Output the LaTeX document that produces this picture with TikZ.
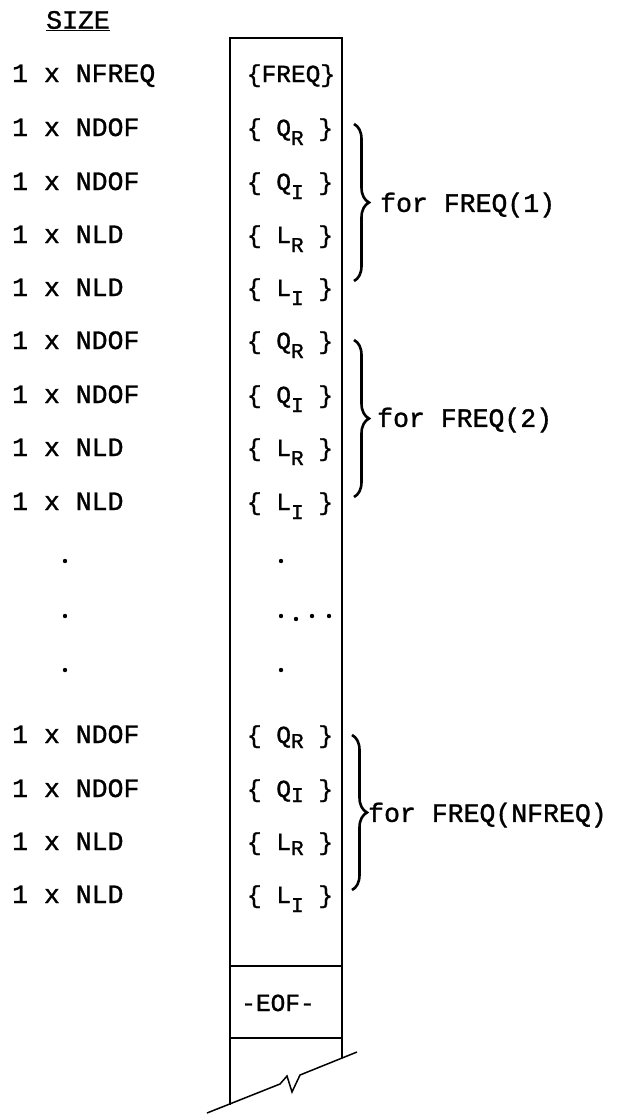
\documentclass[tikz,border=0pt]{standalone}
\usepackage{fontspec}
\setmonofont[FakeBold=1.2]{Liberation Mono}
\usetikzlibrary{decorations.pathreplacing}
\newcommand{\fld}[3][9pt]{\{ #2\raisebox{-#1}{\fontsize{21}{21}\selectfont #3} \}}

\begin{document}
\begin{tikzpicture}
        [x=1pt,y=-1pt,
         every node/.style={font=\ttfamily\fontsize{26.5}{32}\selectfont,inner sep=0pt},
         lbl/.style={anchor=base west},
         ent/.style={anchor=base,font=\ttfamily\fontsize{24.5}{32}\selectfont},
         grp/.style={decorate,decoration={brace,amplitude=15pt},line width=2.6pt},
         col/.style={line width=1.5pt}]
        \useasboundingbox (0,0) rectangle (616,1116);
        \node[] (size) at (78,21) {\underline{SIZE}};
        % sizes
        \foreach \y/\t [count=\i] in {74/NFREQ,128/NDOF,182/NDOF,235/NLD,288/NLD,
            341/NDOF,395/NDOF,448/NLD,502/NLD,735/NDOF,789/NDOF,842/NLD,895/NLD}
            \node[lbl] (s\i) at (12,\y+8) {1 x \t};
        \foreach \y in {561,616,670}
            \fill (65,\y) circle (2.2pt);
        % record
        \draw[col] (230,1105) -- (230,38) -- (342,38) -- (342,1058);
        \draw[col] (230,966) -- (342,966);
        \draw[col] (230,1038) -- (342,1038);
        \draw[col] (207,1113) -- (280,1084) -- (287,1076) -- (292,1092) -- (300,1075) -- (357,1052);
        \node[ent] (freq) at (291,82) {\{FREQ\}};
        \foreach \y/\a/\b/\d [count=\i] in {128/Q/R/9pt,182/Q/I/9pt,235/L/R/9pt,288/L/I/9pt,
            341/Q/R/9pt,395/Q/I/9pt,448/L/R/9pt,502/L/I/9pt,
            735/Q/R/5pt,789/Q/I/5pt,842/L/R/5pt,895/L/I/9pt}
            \node[ent] (f\i) at (290,\y+8) {\fld[\d]{\a}{\b}};
        \fill (281,561) circle (2.2pt);
        \fill (281,670) circle (2.2pt);
        \foreach \x/\y in {281/616,296/619,312/616,329/616}
            \fill (\x,\y) circle (2.2pt);
        \node[ent] (eof) at (278,1011) {-EOF-};
        % groups
        \coordinate (g1a) at (354,124);
        \coordinate (g1b) at (354,281);
        \coordinate (g2a) at (354,340);
        \coordinate (g2b) at (354,497);
        \coordinate (g3a) at (352,735);
        \coordinate (g3b) at (352,890);
        \draw[grp] (g1a) -- (g1b);
        \draw[grp] (g2a) -- (g2b);
        \draw[grp] (g3a) -- (g3b);
        \node[anchor=west] (t1) at (380,205) {for FREQ(1)};
        \node[anchor=west] (t2) at (377,420) {for FREQ(2)};
        \node[anchor=west] (t3) at (368,815) {for FREQ(NFREQ)};
    \end{tikzpicture}
\end{document}
